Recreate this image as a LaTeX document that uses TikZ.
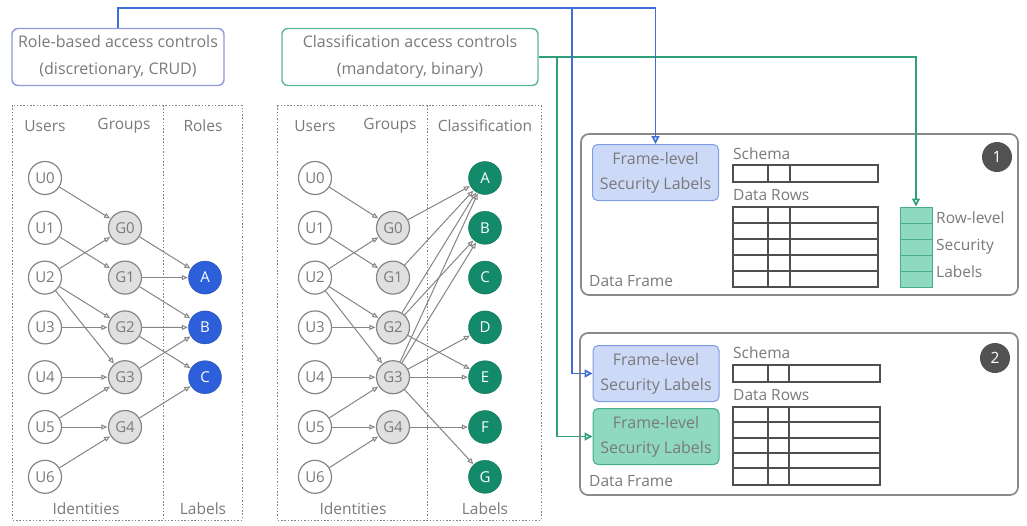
\documentclass[tikz,border=0pt]{standalone}
\usepackage{fontspec}
\setmainfont{Open Sans}
\usetikzlibrary{arrows.meta}
\definecolor{txt}{HTML}{7A7A7A}
\definecolor{edgec}{HTML}{858585}
\definecolor{bluec}{HTML}{3D6FD6}
\definecolor{bluebr}{HTML}{8E9BDA}
\definecolor{greenc}{HTML}{2E9E7C}
\definecolor{greenbr}{HTML}{5DB79C}
\definecolor{rolefill}{HTML}{2C5FD9}
\definecolor{clsfill}{HTML}{138A6A}
\definecolor{gfill}{HTML}{E0E0E0}
\definecolor{flblue}{HTML}{CCD9F7}
\definecolor{flbluebr}{HTML}{7E9DE2}
\definecolor{flgreen}{HTML}{8ED9BF}
\definecolor{flgreenbr}{HTML}{45AE8B}
\definecolor{panelbr}{HTML}{8A8A8A}
\definecolor{tablec}{HTML}{4F4F4F}
\tikzset{
  every node/.style={font=\fontsize{15.5}{18}\selectfont, text=txt},
  unode/.style={circle, draw=edgec, line width=1.2pt, fill=white, minimum size=33pt, inner sep=0pt, font=\fontsize{15}{17}\selectfont},
  gnode/.style={unode, fill=gfill},
  rnode/.style={circle, fill=rolefill, draw=rolefill!80!black, minimum size=33pt, inner sep=0pt, text=white, font=\fontsize{15}{17}\selectfont},
  cnode/.style={circle, fill=clsfill, draw=clsfill!80!black, minimum size=33pt, inner sep=0pt, text=white, font=\fontsize{15}{17}\selectfont},
  edge/.style={draw=edgec, line width=1pt, -{Triangle[open,length=6pt,width=5pt]}, shorten >=0.5pt},
  dotbox/.style={draw=edgec, line width=1pt, dash pattern=on 1.5pt off 1.8pt},
  ctrlbox/.style={draw, rounded corners=6pt, line width=1.4pt, align=center, minimum width=#1, minimum height=57pt, inner sep=2pt, font=\fontsize{16}{27}\selectfont},
  blueconn/.style={draw=bluec, line width=1.7pt},
  greenconn/.style={draw=greenc, line width=1.7pt},
  conntip/.style={-{Triangle[open,length=8pt,width=8pt]}},
  panel/.style={draw=panelbr, line width=1.7pt, rounded corners=8pt},
  flbox/.style={rounded corners=5pt, line width=1pt, align=center, minimum width=126pt, minimum height=56pt, inner sep=1pt, font=\fontsize{16}{25}\selectfont},
  badge/.style={circle, fill=black!68, minimum size=30pt, inner sep=0pt, text=white},
  tbl/.style={draw=tablec, line width=1.2pt},
}
\begin{document}
\begin{tikzpicture}[x=1pt,y=-1pt]
\useasboundingbox[fill=white] (0,0) rectangle (1027,525);

% control boxes
\node[ctrlbox=212pt, draw=bluebr] (role) at (118,57) {Role-based access controls\\(discretionary, CRUD)};
\node[ctrlbox=256pt, draw=greenbr] (cls) at (410,57) {Classification access controls\\(mandatory, binary)};

% dotted boxes
\draw[dotbox] (12,105) rectangle (242,520);
\draw[dotbox] (163,105) -- (163,520);
\draw[dotbox] (277,105) rectangle (541,520);
\draw[dotbox] (427,105) -- (427,520);

% headers
\node (hLu) at (45,126) {Users};
\node (hLg) at (124,126) {Groups};
\node (hLr) at (203,126) {Roles};
\node (fLi) at (86,509) {Identities};
\node (fLl) at (203,509) {Labels};
\node (hMu) at (315,126) {Users};
\node (hMg) at (390,126) {Groups};
\node (hMc) at (485,126) {Classification};
\node (fMi) at (353,509) {Identities};
\node (fMl) at (485,509) {Labels};

% graph nodes
\foreach \p/\ux/\gx in {L/45/125, M/315/393}{
  \foreach \i in {0,...,6}{
    \node[unode] (\p u\i) at (\ux,178+49.8*\i) {U\i};
  }
  \foreach \i in {0,...,4}{
    \node[gnode] (\p g\i) at (\gx,178+49.8*\i+49.8) {G\i};
  }
}
\node[rnode] (La) at (205,277.6) {A};
\node[rnode] (Lb) at (205,327.4) {B};
\node[rnode] (Lc) at (205,377.2) {C};
\foreach \n/\i in {A/0,B/1,C/2,D/3,E/4,F/5,G/6}{
  \node[cnode] (M\n) at (485,178+49.8*\i) {\n};
}

% user -> group edges
\foreach \p in {L,M}{
  \foreach \a/\b in {u0/g0,u1/g1,u2/g0,u2/g2,u2/g3,u3/g2,u4/g3,u5/g3,u5/g4,u6/g4}{
    \draw[edge] (\p\a) -- (\p\b);
  }
}
% group -> role edges
\foreach \a/\b in {g0/a,g1/a,g1/b,g2/b,g2/c,g3/b,g4/c}{
  \draw[edge] (L\a) -- (L\b);
}
% group -> classification edges
\foreach \a/\b in {g0/A,g1/A,g2/A,g3/A,g2/B,g3/B,g2/E,g3/D,g3/E,g3/G,g4/F}{
  \draw[edge] (M\a) -- (M\b);
}

% panel 1
\draw[panel] (581,134) rectangle (1018,295);
\node[flbox, fill=flblue, draw=flbluebr] (fl1) at (655.5,172.5) {Frame-level\\Security Labels};
\node[anchor=west, inner sep=0pt] (sch1) at (733,154) {Schema};
\draw[tbl] (733,165) rectangle (878,182);
\draw[tbl] (768,165) -- (768,182) (790,165) -- (790,182);
\node[anchor=west, inner sep=0pt] (dr1) at (733,195) {Data Rows};
\draw[tbl] (733,207) rectangle (878,287);
\foreach \y in {223,239,255,271}{\draw[tbl] (733,\y) -- (878,\y);}
\draw[tbl] (768,207) -- (768,287) (790,207) -- (790,287);
\node[anchor=west, inner sep=0pt] (df1) at (589,281) {Data Frame};
\node[badge] (b1) at (997,157) {1};
% row-level labels
\node[draw=flgreenbr, fill=flgreen, line width=1pt, minimum width=32pt, minimum height=80pt, inner sep=0pt] (rl) at (916,247) {};
\foreach \y in {223,239,255,271}{\draw[draw=flgreenbr, line width=1pt] (900,\y) -- (932,\y);}
\node[anchor=west, inner sep=0pt, align=left, font=\fontsize{15.5}{27}\selectfont] (rltxt) at (936,245) {Row-level\\Security\\Labels};

% panel 2
\draw[panel] (580,333) rectangle (1018,495);
\node[flbox, fill=flblue, draw=flbluebr] (fl2) at (656,373.5) {Frame-level\\Security Labels};
\node[flbox, fill=flgreen, draw=flgreenbr] (gl2) at (656,436.5) {Frame-level\\Security Labels};
\node[anchor=west, inner sep=0pt] (sch2) at (733,353) {Schema};
\draw[tbl] (733,365) rectangle (880,382);
\draw[tbl] (768,365) -- (768,382) (789,365) -- (789,382);
\node[anchor=west, inner sep=0pt] (dr2) at (733,395) {Data Rows};
\draw[tbl] (733,407) rectangle (880,485);
\foreach \y in {422,438,453,468}{\draw[tbl] (733,\y) -- (880,\y);}
\draw[tbl] (768,407) -- (768,485) (789,407) -- (789,485);
\node[anchor=west, inner sep=0pt] (df2) at (589,481) {Data Frame};
\node[badge] (b2) at (995,358) {2};

% connectors
\coordinate (btop) at (572,8);
\coordinate (gj) at (557,57);
\draw[greenconn, conntip] (cls.east) -| (rl.north);
\draw[greenconn, conntip] (gj) |- (gl2.west);
\draw[blueconn, conntip] (role.north) |- (btop) -| (fl1.north);
\draw[blueconn, conntip] (btop) |- (fl2.west);
\end{tikzpicture}
\end{document}
